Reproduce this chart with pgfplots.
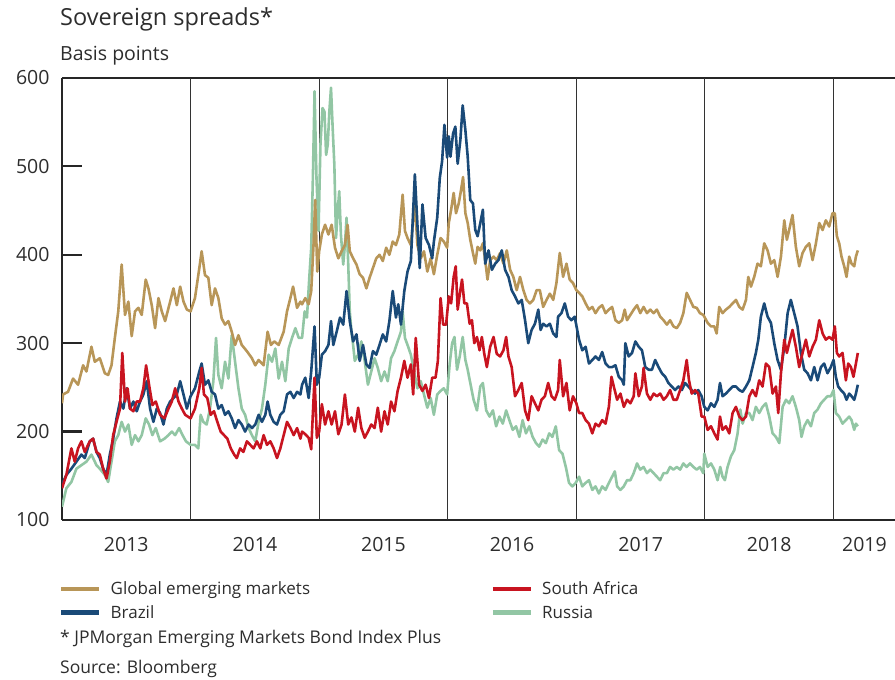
\documentclass[border=0pt]{standalone}
\usepackage{fontspec}
\setmainfont{Open Sans}
\usepackage{pgfplots}
\pgfplotsset{compat=1.18}
\usepackage{pgfplotstable}

\definecolor{gem}{RGB}{184,150,88}
\definecolor{bra}{RGB}{26,74,120}
\definecolor{rsa}{RGB}{200,20,32}
\definecolor{rus}{RGB}{146,198,164}
\definecolor{txt}{RGB}{45,45,45}

% spreads in basis points, x = decimal year
\pgfplotstableread{
t v
2013.000 232
2013.008 242
2013.047 245
2013.086 260
2013.125 253
2013.164 275
2013.190 268
2013.229 296
2013.255 279
2013.294 283
2013.333 266
2013.359 264
2013.385 275
2013.411 306
2013.4375 336
2013.464 389
2013.490 332
2013.516 347
2013.542 308
2013.568 336
2013.594 340
2013.620 332
2013.651 372
2013.672 362
2013.698 343
2013.724 317
2013.750 351
2013.776 336
2013.802 325
2013.841 347
2013.867 362
2013.893 343
2013.919 364
2013.945 347
2013.971 338
2014.000 336
2014.034 351
2014.068 385
2014.086 404
2014.112 377
2014.138 374
2014.164 343
2014.190 362
2014.216 351
2014.242 328
2014.268 321
2014.294 325
2014.320 313
2014.346 298
2014.372 309
2014.398 298
2014.4375 291
2014.477 283
2014.503 275
2014.529 281
2014.568 275
2014.599 313
2014.625 298
2014.651 302
2014.685 298
2014.724 313
2014.750 336
2014.776 351
2014.797 364
2014.828 340
2014.854 347
2014.867 344
2014.892 351
2014.918 344
2014.938 359
2014.956 411
2014.969 462
2014.985 381
2015.000 404
2015.021 423
2015.046 434
2015.072 423
2015.097 434
2015.123 408
2015.149 396
2015.174 404
2015.200 411
2015.221 434
2015.238 404
2015.264 396
2015.290 389
2015.315 378
2015.341 374
2015.367 362
2015.392 374
2015.418 385
2015.444 396
2015.469 400
2015.495 393
2015.521 408
2015.546 400
2015.572 415
2015.597 411
2015.623 423
2015.649 468
2015.667 427
2015.687 419
2015.713 411
2015.744 460
2015.764 411
2015.790 396
2015.815 404
2015.841 381
2015.867 396
2015.892 378
2015.918 400
2015.944 419
2015.969 415
2015.995 408
2016.008 436
2016.026 451
2016.046 470
2016.064 447
2016.085 458
2016.103 473
2016.119 488
2016.137 447
2016.155 436
2016.175 417
2016.196 402
2016.214 390
2016.232 409
2016.253 405
2016.273 413
2016.291 394
2016.309 372
2016.330 394
2016.356 398
2016.381 394
2016.407 402
2016.433 390
2016.459 405
2016.485 383
2016.510 375
2016.536 360
2016.562 375
2016.588 360
2016.613 349
2016.639 345
2016.665 349
2016.691 360
2016.716 360
2016.742 341
2016.768 349
2016.794 356
2016.820 349
2016.845 368
2016.871 402
2016.897 375
2016.923 390
2016.948 372
2016.974 368
2017.000 360
2017.021 357
2017.046 353
2017.072 345
2017.098 338
2017.124 341
2017.149 334
2017.175 340
2017.201 343
2017.227 334
2017.253 338
2017.278 341
2017.304 326
2017.330 323
2017.356 326
2017.376 338
2017.394 326
2017.420 332
2017.446 338
2017.472 343
2017.497 334
2017.523 341
2017.549 334
2017.575 338
2017.601 334
2017.626 338
2017.652 330
2017.678 326
2017.704 321
2017.729 326
2017.755 319
2017.781 317
2017.807 323
2017.832 334
2017.858 357
2017.884 349
2017.910 341
2017.936 340
2017.961 334
2017.987 332
2017.995 330
2018.021 323
2018.047 319
2018.073 319
2018.091 311
2018.111 341
2018.137 334
2018.163 338
2018.189 341
2018.215 345
2018.241 349
2018.267 341
2018.293 338
2018.319 349
2018.337 375
2018.358 364
2018.383 375
2018.409 390
2018.435 387
2018.461 413
2018.487 405
2018.513 390
2018.539 394
2018.565 375
2018.591 398
2018.617 439
2018.637 417
2018.655 428
2018.681 445
2018.707 409
2018.733 387
2018.759 402
2018.785 409
2018.811 413
2018.837 394
2018.863 413
2018.889 436
2018.915 428
2018.940 439
2018.966 432
2018.992 447
2019.010 447
2019.026 421
2019.044 413
2019.062 398
2019.083 387
2019.101 375
2019.122 398
2019.140 390
2019.161 387
2019.174 398
2019.189 405
}\gemdata

\pgfplotstableread{
t v
2013.000 140
2013.034 151
2013.073 158
2013.112 166
2013.151 174
2013.177 170
2013.216 189
2013.242 192
2013.268 177
2013.294 170
2013.320 158
2013.346 151
2013.372 174
2013.398 192
2013.424 215
2013.451 234
2013.477 226
2013.503 249
2013.529 226
2013.555 234
2013.581 223
2013.607 234
2013.633 242
2013.659 257
2013.685 226
2013.711 211
2013.737 226
2013.763 221
2013.789 208
2013.815 226
2013.841 234
2013.867 238
2013.893 242
2013.919 257
2013.945 242
2013.971 226
2014.000 240
2014.034 249
2014.068 268
2014.086 277
2014.112 253
2014.138 258
2014.164 245
2014.190 242
2014.216 226
2014.242 230
2014.268 219
2014.294 223
2014.320 215
2014.346 204
2014.372 213
2014.398 208
2014.424 200
2014.451 208
2014.477 204
2014.503 208
2014.529 219
2014.555 211
2014.581 219
2014.599 234
2014.620 219
2014.646 211
2014.672 208
2014.698 219
2014.724 223
2014.750 242
2014.776 245
2014.802 238
2014.828 245
2014.854 242
2014.867 253
2014.892 261
2014.918 238
2014.938 268
2014.964 319
2014.982 253
2015.000 261
2015.021 287
2015.046 291
2015.072 298
2015.092 325
2015.110 298
2015.136 313
2015.162 329
2015.187 321
2015.213 359
2015.238 325
2015.264 302
2015.290 310
2015.315 280
2015.341 298
2015.367 276
2015.392 272
2015.418 291
2015.444 287
2015.469 298
2015.495 310
2015.521 302
2015.546 325
2015.572 359
2015.597 329
2015.615 344
2015.636 321
2015.662 359
2015.687 381
2015.713 393
2015.744 491
2015.764 434
2015.782 385
2015.803 457
2015.828 419
2015.854 411
2015.879 396
2015.892 415
2015.918 442
2015.938 487
2015.956 506
2015.974 547
2015.995 510
2016.008 534
2016.021 511
2016.041 537
2016.059 545
2016.077 503
2016.098 530
2016.116 569
2016.137 541
2016.155 511
2016.175 462
2016.196 458
2016.214 428
2016.232 421
2016.253 436
2016.273 451
2016.291 390
2016.317 405
2016.343 383
2016.369 390
2016.394 394
2016.420 405
2016.446 383
2016.472 375
2016.497 360
2016.523 353
2016.549 345
2016.575 349
2016.601 326
2016.626 300
2016.652 315
2016.678 322
2016.704 338
2016.722 315
2016.742 322
2016.768 319
2016.794 322
2016.820 311
2016.845 307
2016.858 330
2016.884 334
2016.910 345
2016.936 330
2016.961 326
2016.987 330
2017.021 304
2017.046 292
2017.072 296
2017.098 277
2017.124 281
2017.149 285
2017.175 281
2017.201 290
2017.227 277
2017.253 273
2017.278 273
2017.304 275
2017.330 262
2017.356 258
2017.369 253
2017.381 300
2017.407 285
2017.433 289
2017.459 302
2017.485 296
2017.510 292
2017.536 273
2017.562 270
2017.588 270
2017.613 281
2017.639 273
2017.665 266
2017.691 262
2017.716 255
2017.742 251
2017.768 247
2017.794 251
2017.820 247
2017.845 255
2017.871 251
2017.897 247
2017.923 243
2017.948 247
2017.974 240
2017.995 228
2018.021 224
2018.047 232
2018.073 228
2018.098 236
2018.117 255
2018.137 240
2018.163 243
2018.189 247
2018.215 251
2018.241 251
2018.267 247
2018.293 245
2018.319 251
2018.345 258
2018.370 273
2018.396 289
2018.415 304
2018.435 330
2018.461 345
2018.487 330
2018.513 323
2018.539 300
2018.565 281
2018.591 270
2018.617 296
2018.643 334
2018.668 349
2018.694 334
2018.720 319
2018.746 289
2018.772 270
2018.798 266
2018.824 258
2018.850 273
2018.876 258
2018.902 273
2018.927 277
2018.953 266
2018.979 273
2019.000 281
2019.018 262
2019.036 251
2019.057 247
2019.083 243
2019.101 236
2019.122 243
2019.140 240
2019.161 236
2019.174 243
2019.189 253
}\bradata

\pgfplotstableread{
t v
2013.000 136
2013.034 151
2013.073 181
2013.099 166
2013.125 181
2013.151 189
2013.177 177
2013.216 189
2013.242 192
2013.268 177
2013.294 174
2013.320 158
2013.346 147
2013.372 166
2013.398 196
2013.424 211
2013.451 226
2013.469 289
2013.490 234
2013.510 249
2013.529 226
2013.555 223
2013.581 234
2013.607 234
2013.633 249
2013.654 275
2013.677 253
2013.703 230
2013.729 234
2013.763 219
2013.797 215
2013.828 226
2013.854 234
2013.880 249
2013.906 234
2013.932 226
2013.958 219
2014.000 215
2014.034 226
2014.068 249
2014.086 272
2014.104 242
2014.130 238
2014.156 219
2014.182 223
2014.208 211
2014.234 200
2014.260 196
2014.286 192
2014.3125 181
2014.339 174
2014.359 170
2014.385 181
2014.411 177
2014.4375 189
2014.464 185
2014.490 181
2014.516 189
2014.542 181
2014.568 196
2014.594 185
2014.620 189
2014.646 181
2014.672 170
2014.698 181
2014.724 196
2014.750 211
2014.776 204
2014.802 196
2014.828 204
2014.854 192
2014.867 200
2014.892 197
2014.918 193
2014.938 180
2014.964 261
2014.982 193
2015.000 200
2015.021 231
2015.046 208
2015.072 223
2015.097 208
2015.123 223
2015.149 197
2015.174 208
2015.200 242
2015.226 208
2015.251 216
2015.277 200
2015.303 227
2015.328 204
2015.354 193
2015.379 200
2015.405 208
2015.431 204
2015.456 227
2015.482 200
2015.508 223
2015.533 208
2015.559 234
2015.585 223
2015.610 246
2015.636 261
2015.662 280
2015.687 261
2015.713 276
2015.731 242
2015.751 306
2015.777 253
2015.803 246
2015.828 253
2015.854 238
2015.879 261
2015.905 261
2015.923 280
2015.944 351
2015.964 321
2015.987 321
2016.008 353
2016.026 345
2016.046 375
2016.062 387
2016.077 338
2016.098 360
2016.111 372
2016.129 345
2016.149 345
2016.170 322
2016.188 326
2016.206 300
2016.227 307
2016.247 292
2016.265 307
2016.284 288
2016.304 273
2016.330 296
2016.356 307
2016.381 288
2016.407 285
2016.433 292
2016.454 307
2016.472 285
2016.497 273
2016.523 240
2016.549 247
2016.575 255
2016.601 224
2016.626 213
2016.652 240
2016.678 232
2016.704 224
2016.729 236
2016.755 240
2016.781 255
2016.807 240
2016.832 236
2016.858 247
2016.871 281
2016.897 240
2016.923 255
2016.948 224
2016.974 240
2017.000 232
2017.021 221
2017.046 221
2017.072 213
2017.098 209
2017.124 198
2017.149 209
2017.175 206
2017.201 213
2017.227 209
2017.253 228
2017.273 262
2017.291 251
2017.317 236
2017.343 243
2017.369 228
2017.394 236
2017.420 232
2017.446 240
2017.459 266
2017.485 240
2017.510 251
2017.523 272
2017.549 243
2017.575 236
2017.601 243
2017.626 240
2017.652 243
2017.678 236
2017.704 240
2017.729 247
2017.755 236
2017.781 236
2017.807 247
2017.832 258
2017.858 281
2017.876 258
2017.897 243
2017.923 247
2017.948 243
2017.974 217
2017.995 217
2018.021 202
2018.047 206
2018.073 198
2018.098 191
2018.117 217
2018.137 202
2018.163 206
2018.189 198
2018.215 221
2018.241 228
2018.267 217
2018.293 213
2018.319 217
2018.345 240
2018.370 247
2018.396 240
2018.422 258
2018.448 251
2018.474 277
2018.500 273
2018.526 243
2018.552 251
2018.570 221
2018.591 266
2018.617 304
2018.637 289
2018.655 300
2018.681 315
2018.707 296
2018.733 273
2018.759 289
2018.785 304
2018.811 285
2018.837 296
2018.863 304
2018.889 326
2018.915 311
2018.940 304
2018.966 307
2018.992 304
2019.010 319
2019.026 289
2019.044 285
2019.070 289
2019.096 258
2019.114 277
2019.135 273
2019.155 262
2019.174 277
2019.189 289
}\rsadata

\pgfplotstableread{
t v
2013.000 115
2013.034 136
2013.073 143
2013.112 158
2013.151 162
2013.190 166
2013.229 174
2013.268 162
2013.294 158
2013.333 151
2013.359 143
2013.385 166
2013.411 189
2013.4375 196
2013.464 211
2013.490 200
2013.516 208
2013.542 185
2013.568 196
2013.594 189
2013.620 196
2013.651 215
2013.677 208
2013.703 196
2013.729 204
2013.763 189
2013.797 192
2013.828 196
2013.854 200
2013.880 196
2013.911 204
2013.9375 196
2013.964 189
2014.000 185
2014.034 185
2014.060 181
2014.078 219
2014.099 211
2014.125 208
2014.151 226
2014.177 257
2014.198 306
2014.216 264
2014.242 249
2014.268 279
2014.294 260
2014.320 309
2014.346 279
2014.372 249
2014.398 226
2014.424 219
2014.451 204
2014.477 196
2014.503 189
2014.529 211
2014.555 226
2014.581 253
2014.607 287
2014.633 279
2014.659 294
2014.685 260
2014.711 279
2014.737 257
2014.763 294
2014.789 306
2014.815 317
2014.841 306
2014.867 306
2014.887 336
2014.905 329
2014.923 374
2014.938 408
2014.951 487
2014.964 585
2014.979 487
2014.995 427
2015.010 525
2015.026 566
2015.041 562
2015.054 513
2015.067 525
2015.079 562
2015.092 589
2015.105 543
2015.118 502
2015.131 419
2015.144 449
2015.156 472
2015.169 423
2015.187 389
2015.200 411
2015.213 442
2015.226 389
2015.238 336
2015.251 313
2015.264 298
2015.277 280
2015.303 287
2015.328 302
2015.354 280
2015.379 253
2015.405 268
2015.431 283
2015.456 272
2015.482 257
2015.508 268
2015.533 257
2015.559 283
2015.585 291
2015.610 302
2015.636 313
2015.649 336
2015.667 306
2015.687 298
2015.713 287
2015.738 268
2015.764 249
2015.790 257
2015.815 242
2015.841 227
2015.867 238
2015.892 219
2015.918 242
2015.944 246
2015.969 249
2015.995 242
2016.015 277
2016.034 300
2016.052 307
2016.072 270
2016.093 285
2016.116 307
2016.137 281
2016.155 270
2016.175 255
2016.201 236
2016.227 224
2016.253 251
2016.273 255
2016.299 224
2016.325 217
2016.351 224
2016.376 206
2016.402 217
2016.428 209
2016.454 224
2016.479 213
2016.505 202
2016.531 206
2016.557 194
2016.582 213
2016.608 198
2016.634 206
2016.660 194
2016.686 187
2016.711 183
2016.737 191
2016.763 187
2016.789 198
2016.814 194
2016.840 206
2016.866 179
2016.892 175
2016.918 160
2016.943 142
2016.969 138
2016.995 142
2017.021 149
2017.046 138
2017.072 142
2017.098 145
2017.124 134
2017.149 138
2017.175 130
2017.201 138
2017.227 134
2017.253 142
2017.278 149
2017.299 155
2017.317 138
2017.343 134
2017.369 138
2017.394 145
2017.420 145
2017.446 153
2017.472 164
2017.497 157
2017.523 160
2017.549 153
2017.575 157
2017.601 153
2017.626 149
2017.652 145
2017.678 153
2017.704 153
2017.729 160
2017.755 157
2017.781 160
2017.807 157
2017.832 164
2017.858 160
2017.884 164
2017.910 160
2017.936 157
2017.961 160
2017.987 153
2017.995 175
2018.021 160
2018.047 164
2018.073 157
2018.098 145
2018.119 160
2018.137 149
2018.155 145
2018.176 160
2018.202 172
2018.228 179
2018.254 198
2018.275 225
2018.293 209
2018.319 221
2018.345 221
2018.370 213
2018.396 228
2018.422 221
2018.448 228
2018.474 232
2018.500 217
2018.526 198
2018.552 194
2018.578 187
2018.604 228
2018.630 236
2018.655 232
2018.681 240
2018.707 228
2018.733 213
2018.751 194
2018.772 206
2018.798 213
2018.824 206
2018.850 221
2018.876 225
2018.902 232
2018.927 236
2018.953 240
2018.979 240
2019.000 247
2019.018 221
2019.044 217
2019.070 209
2019.096 213
2019.122 217
2019.140 213
2019.161 202
2019.174 209
2019.189 206
}\rusdata

\begin{document}
\begin{tikzpicture}
\useasboundingbox (0,0) rectangle (895pt,680pt);

\node[anchor=base west, inner sep=0pt, text=txt, font=\fontsize{23.5}{28}\selectfont]
  at (60pt,654pt) {Sovereign spreads*};
\node[anchor=base west, inner sep=0pt, text=txt, font=\fontsize{19.5}{23}\selectfont]
  at (60pt,619pt) {Basis points};

\begin{axis}[
  at={(62pt,160pt)}, anchor=south west,
  scale only axis, width=833pt, height=442pt,
  xmin=2013, xmax=2019.478, ymin=100, ymax=600,
  axis x line=box, axis y line=left,
  axis line style={line width=2.2pt, black!85, -},
  xtick={2013.5,2014.5,2015.5,2016.5,2017.5,2018.5,2019.24},
  xticklabels={2013,2014,2015,2016,2017,2018,2019},
  xtick style={draw=none},
  ytick={100,200,300,400,500,600},
  ytick style={line width=2.2pt, black!85},
  tick align=inside,
  major tick length=20pt,
  extra x ticks={2014,2015,2016,2017,2018,2019},
  extra x tick labels={},
  extra x tick style={grid=major, major tick length=0pt},
  major grid style={line width=1pt, black!80},
  /pgf/number format/assume math mode=true,
  tick label style={font=\fontsize{19.5}{23}\selectfont, text=txt},
  xticklabel style={yshift=-14pt},
  yticklabel style={xshift=-9pt},
  legend columns=2,
  legend cell align=left,
  legend style={at={(0,-0.135)}, anchor=north west, draw=none, fill=none,
    inner sep=0pt, font=\fontsize{17}{20}\selectfont, text=txt,
    row sep=5pt, xshift=-3pt},
  legend image code/.code={\draw[#1, line width=4.5pt] (0pt,0pt) -- (38pt,0pt);},
  every axis plot/.append style={line width=2.6pt, line join=round},
]
\addlegendimage{gem}
\addlegendentry{\hspace*{7pt}\makebox[378pt][l]{Global emerging markets}}
\addlegendimage{rsa}
\addlegendentry{\hspace*{7pt}South Africa}
\addlegendimage{bra}
\addlegendentry{\hspace*{7pt}Brazil}
\addlegendimage{rus}
\addlegendentry{\hspace*{7pt}Russia}

\addplot[rus, forget plot] table[x=t, y=v] {\rusdata};
\addplot[gem, forget plot] table[x=t, y=v] {\gemdata};
\addplot[bra, forget plot] table[x=t, y=v] {\bradata};
\addplot[rsa, forget plot] table[x=t, y=v] {\rsadata};
\end{axis}

\node[anchor=base west, inner sep=0pt, text=txt, font=\fontsize{17.5}{21}\selectfont]
  at (60pt,36pt) {* JPMorgan Emerging Markets Bond Index Plus};
\node[anchor=base west, inner sep=0pt, text=txt, font=\fontsize{17.5}{21}\selectfont]
  at (60pt,6pt) {Source: Bloomberg};
\end{tikzpicture}
\end{document}
